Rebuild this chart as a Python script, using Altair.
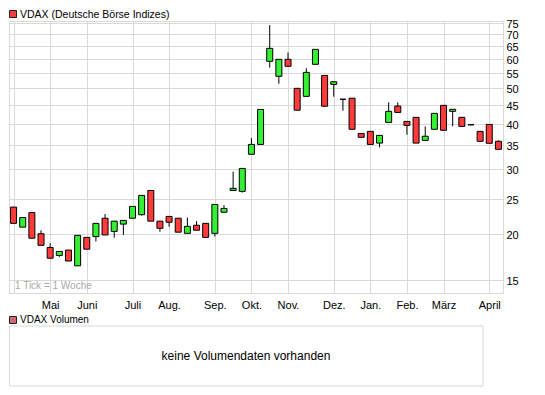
import json
import pandas as pd
import altair as alt

# ---- data (weekly candles) ----
week = list(range(54))
open_ = [23.7, 20.9, 22.9, 20.05, 18.4, 17.5, 18.1, 16.4, 19.6, 19.7,
         22.1, 20.35, 21.3, 22.1, 22.6, 26.3, 21.7, 22.35, 22.1, 20.1,
         21.15, 21.4, 20.1, 22.95, 26.3, 26.15, 33.0, 35.1, 59.1, 53.8,
         59.85, 49.9, 47.45, 58.0, 54.1, 51.15, 46.6, 46.9, 37.6, 38.1,
         35.4, 40.3, 44.65, 40.55, 41.6, 36.0, 38.6, 44.85, 43.2, 41.6,
         39.7, 38.1, 39.8, 35.8]
close = [21.4, 22.2, 19.5, 18.65, 17.2, 17.95, 16.9, 19.85, 18.2, 21.4,
         19.9, 21.7, 21.8, 23.8, 25.5, 21.7, 20.75, 21.55, 20.25, 21.0,
         20.5, 19.6, 24.1, 23.5, 26.65, 30.2, 35.1, 43.7, 64.1, 59.85,
         57.3, 43.5, 55.15, 63.7, 44.6, 52.0, 46.6, 38.6, 36.7, 35.1,
         37.15, 43.2, 42.9, 39.55, 35.4, 36.95, 42.65, 38.35, 43.75, 39.3,
         39.7, 35.8, 35.35, 34.05]
high = [23.7, 22.2, 22.9, 20.5, 18.9, 17.95, 18.1, 19.85, 19.6, 21.4,
        22.7, 21.7, 21.8, 23.8, 25.5, 26.3, 21.7, 22.35, 22.1, 22.2,
        21.7, 21.4, 24.1, 24.0, 29.6, 30.2, 36.5, 43.7, 74.2, 59.85,
        62.5, 49.9, 56.6, 63.7, 54.1, 52.0, 46.6, 46.9, 37.6, 38.1,
        37.15, 45.7, 45.7, 40.55, 41.6, 39.3, 42.65, 44.85, 43.75, 41.6,
        39.7, 38.1, 39.8, 36.0]
low = [21.4, 20.9, 19.5, 18.65, 17.2, 17.35, 16.9, 16.4, 18.2, 19.1,
       19.9, 19.55, 19.9, 22.1, 22.45, 21.7, 20.3, 20.95, 20.25, 20.1,
       20.5, 19.6, 19.7, 22.95, 26.3, 25.95, 33.0, 35.1, 56.8, 51.35,
       57.3, 43.5, 47.45, 58.0, 44.6, 47.35, 43.35, 38.6, 36.7, 35.1,
       34.45, 40.3, 42.9, 37.3, 35.4, 36.0, 38.6, 38.35, 39.3, 39.3,
       39.7, 35.8, 35.35, 34.05]

month_ticks = [0, 4, 8, 13, 17, 22, 26, 30, 35, 39, 43, 47, 52]
month_labels = ["", "Mai", "Juni", "Juli", "Aug.", "Sep.", "Okt.", "Nov.",
                "Dez.", "Jan.", "Feb.", "März", "April"]
y_ticks = [15, 20, 25, 30, 35, 40, 45, 50, 55, 60, 65, 70, 75]

title_text = "VDAX (Deutsche Börse Indizes)"
volume_title = "VDAX Volumen"
volume_msg = "keine Volumendaten vorhanden"
tick_note = "1 Tick = 1 Woche"

# ---- styling ----
FONT = "Liberation Sans"
GRID = "#d9d9d9"
RED = "#ff3a3a"
GREEN = "#33f033"
VOL = "#d46a6a"
W, H = 494, 272

df = pd.DataFrame({"week": week, "open": open_, "close": close,
                   "high": high, "low": low})
one = pd.DataFrame({"k": [0]})

label_expr = "{}[indexof({}, datum.value)]".format(
    json.dumps(month_labels, ensure_ascii=False), json.dumps(month_ticks))

x_enc = alt.X("week:Q",
              scale=alt.Scale(domain=[-0.5, 53.5], nice=False, zero=False, padding=0),
              axis=alt.Axis(values=month_ticks, labelExpr=label_expr, grid=True,
                            gridColor=GRID, gridWidth=1, ticks=False, tickSize=0,
                            domain=False, labelPadding=6, labelFontSize=11,
                            labelFont=FONT, labelColor="black", title=None,
                            labelOverlap=False, labelFlush=False))

y_scale = alt.Scale(type="log", domain=[13.83, 76.1], nice=False, zero=False)
y_axis = alt.Axis(orient="right", values=y_ticks, format="d", grid=True,
                  gridColor=GRID, gridWidth=1, ticks=False, tickSize=0,
                  domain=False, labelPadding=3, labelFontSize=11,
                  labelFont=FONT, labelColor="black", title=None,
                  labelOverlap=False, labelFlush=False, labelOffset=1.5)

wicks = alt.Chart(df).mark_rule(color="black", strokeWidth=1).encode(
    x=x_enc,
    y=alt.Y("low:Q", scale=y_scale, axis=y_axis),
    y2="high:Q")

bodies = alt.Chart(df).mark_bar(size=6, stroke="black", strokeWidth=1).encode(
    x=x_enc,
    y=alt.Y("open:Q", scale=y_scale, axis=y_axis),
    y2="close:Q",
    color=alt.condition("datum.close >= datum.open", alt.value(GREEN), alt.value(RED)))

base = alt.Chart(one)

title_sq = base.mark_rect(fill=RED, stroke="#222222", strokeWidth=1).encode(
    x=alt.value(0.5), x2=alt.value(7.5), y=alt.value(-10.5), y2=alt.value(-3.5))
title_txt = base.mark_text(align="left", baseline="alphabetic", font=FONT,
                           fontSize=10.5, color="black").encode(
    x=alt.value(11), y=alt.value(-3), text=alt.value(title_text))

note_txt = base.mark_text(align="left", baseline="middle", font=FONT,
                          fontSize=10, color="#a8a8a8").encode(
    x=alt.value(6), y=alt.value(265), text=alt.value(tick_note))

vol_sq = base.mark_rect(fill=VOL, stroke="#222222", strokeWidth=1).encode(
    x=alt.value(0.5), x2=alt.value(7.5), y=alt.value(295.5), y2=alt.value(302.5))
vol_txt = base.mark_text(align="left", baseline="alphabetic", font=FONT,
                         fontSize=10, color="black").encode(
    x=alt.value(11), y=alt.value(302), text=alt.value(volume_title))
vol_box = base.mark_rect(fill="white", stroke=GRID, strokeWidth=1).encode(
    x=alt.value(0.5), x2=alt.value(474), y=alt.value(305), y2=alt.value(365))
vol_msg = base.mark_text(align="center", baseline="middle", font=FONT,
                         fontSize=12, color="black").encode(
    x=alt.value(237), y=alt.value(334.5), text=alt.value(volume_msg))

chart = alt.layer(wicks, bodies, title_sq, title_txt, note_txt,
                  vol_sq, vol_txt, vol_box, vol_msg).properties(
    width=W, height=H,
    autosize=alt.AutoSizeParams(type="none"),
    padding={"left": 1, "top": 13, "right": 34, "bottom": 96},
    background="white",
).configure_view(stroke=GRID, strokeWidth=1)

chart.save("out.html", embed_options={"renderer": "svg", "actions": False})
